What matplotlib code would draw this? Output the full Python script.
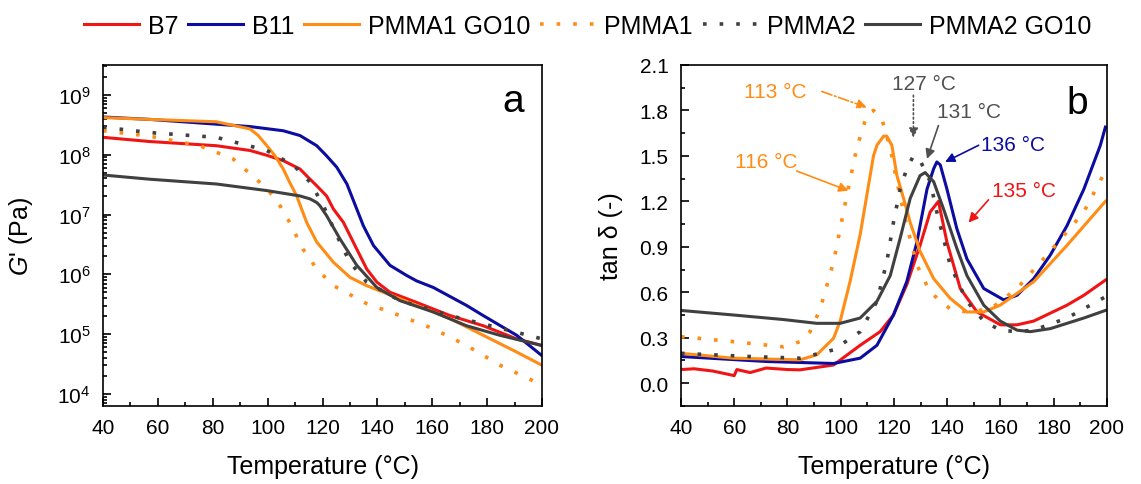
import numpy as np
import matplotlib
matplotlib.use("Agg")
import matplotlib.pyplot as plt
from matplotlib.ticker import MultipleLocator, LogLocator, NullFormatter, FormatStrFormatter

plt.rcParams['font.family'] = ['Liberation Sans', 'DejaVu Sans']
plt.rcParams['mathtext.fontset'] = 'custom'
plt.rcParams['mathtext.rm'] = 'Liberation Sans'
plt.rcParams['mathtext.it'] = 'Liberation Sans:italic'

RED = '#f01414'
BLUE = '#0c0ca0'
ORANGE = '#ff8c14'
GRAY = '#404040'

# ---- panel a: storage modulus G' (log10 Pa) ----
b11_T = [40, 57, 81.3, 93.6, 105.7, 111.8, 117.9, 121.5, 125.2, 128.9, 132.5, 134.9, 138.6,
         144.6, 150.7, 154.3, 160.4, 172.5, 178.6, 190.8, 200]
b11_G = [8.63, 8.59, 8.51, 8.47, 8.40, 8.32, 8.15, 7.98, 7.79, 7.51, 7.09, 6.81, 6.48,
         6.15, 5.98, 5.89, 5.78, 5.48, 5.31, 4.98, 4.64]

b7_T = [40, 57, 81.3, 93.6, 99.7, 105.7, 111.8, 114.8, 117.9, 121.5, 124, 127.6, 130, 132.5,
        136.1, 139.8, 144.6, 154.3, 166.5, 178.6, 190.8, 200]
b7_G = [8.29, 8.22, 8.15, 8.07, 7.99, 7.90, 7.76, 7.62, 7.48, 7.31, 7.09, 6.87, 6.65, 6.42,
        6.09, 5.87, 5.70, 5.53, 5.31, 5.14, 4.92, 4.81]

p1go_T = [40, 57, 81.3, 93.6, 96.6, 99.7, 102.7, 105.7, 108, 110.6, 114.2, 117.9, 121.5, 124,
          130, 136.1, 142.2, 154.3, 166.5, 178.6, 190.8, 200]
p1go_G = [8.62, 8.59, 8.55, 8.43, 8.32, 8.15, 7.98, 7.76, 7.54, 7.31, 6.87, 6.54, 6.34, 6.20,
          5.95, 5.81, 5.70, 5.48, 5.26, 4.98, 4.70, 4.48]

p1_T = [40, 57, 75.2, 87.4, 97.1, 103.1, 108, 112.9, 117.9, 124, 136.1, 148.2, 160.4, 172.5, 184.7, 200]
p1_G = [8.40, 8.31, 8.15, 7.93, 7.54, 7.26, 6.87, 6.42, 6.09, 5.81, 5.51, 5.31, 5.09, 4.81, 4.48, 4.15]

p2_T = [40, 57, 81.3, 99.7, 109.5, 115.5, 120.3, 125.2, 130, 136.1, 148.2, 166.5, 178.6, 190.8, 200]
p2_G = [8.46, 8.37, 8.29, 8.07, 7.82, 7.54, 7.15, 6.65, 6.20, 5.87, 5.56, 5.31, 5.17, 5.03, 4.92]

p2go_T = [40, 57, 81.3, 99.7, 111.8, 115.5, 117.9, 119, 121.5, 126.4, 132.5, 139.8, 148.2, 160.4,
          172.5, 184.7, 200]
p2go_G = [7.66, 7.59, 7.51, 7.40, 7.31, 7.26, 7.20, 7.15, 6.98, 6.59, 6.15, 5.78, 5.56, 5.37,
          5.14, 4.98, 4.81]

# ---- panel b: tan delta ----
b11_Tb = [40, 72.2, 97.3, 107.3, 113.6, 119.8, 124.8, 128.6, 132.4, 134.9, 136.1, 137.4, 139.9,
          143.6, 147.4, 153.7, 161.2, 166.2, 172.5, 178.7, 185, 191.3, 197.5, 199.4]
b11_tan = [0.176, 0.143, 0.13, 0.165, 0.25, 0.45, 0.67, 0.93, 1.28, 1.415, 1.46, 1.44, 1.28,
           1.02, 0.82, 0.625, 0.55, 0.58, 0.69, 0.845, 1.04, 1.28, 1.57, 1.69]

b7_Tb = [40, 45, 52, 60, 61, 66, 72, 80, 84.7, 97.3, 107.3, 114.8, 119.8, 124.8, 129.8, 133.6,
         136.7, 139.9, 144.9, 151.2, 160, 166.2, 172.5, 185, 191.3, 199.4]
b7_tan = [0.09, 0.095, 0.08, 0.05, 0.09, 0.07, 0.10, 0.09, 0.088, 0.12, 0.25, 0.34, 0.45, 0.65,
          0.91, 1.13, 1.20, 0.93, 0.625, 0.47, 0.385, 0.385, 0.41, 0.515, 0.58, 0.68]

p1go_Tb = [40, 59.7, 84.7, 91, 97.3, 99.8, 103.5, 107.3, 109.8, 112.3, 113.6, 116.1, 117.3, 119.2,
           121.1, 123.6, 126.1, 129.8, 134.9, 141.1, 147.4, 153.7, 159.9, 172.5, 185, 199.4]
p1go_tan = [0.197, 0.165, 0.154, 0.187, 0.296, 0.41, 0.67, 0.98, 1.24, 1.50, 1.57, 1.63, 1.63, 1.57,
            1.37, 1.22, 1.06, 0.87, 0.69, 0.56, 0.47, 0.47, 0.515, 0.67, 0.91, 1.20]

p1_Tb = [40, 59.7, 78.5, 84.7, 88.5, 92.3, 97.3, 102.3, 106, 109.8, 112.3, 115.4, 118.6, 121.1,
         124.8, 128.6, 133.6, 141.1, 147.4, 156.2, 166.2, 178.7, 191.3, 199.4]
p1_tan = [0.307, 0.274, 0.24, 0.274, 0.34, 0.49, 0.80, 1.24, 1.55, 1.77, 1.80, 1.745, 1.55, 1.33,
          1.04, 0.78, 0.60, 0.49, 0.47, 0.49, 0.625, 0.87, 1.13, 1.40]

p2_Tb = [40, 65.9, 84.7, 97.3, 107.3, 113.6, 117.3, 119.8, 122.3, 124.8, 127.3, 129.8, 133.6, 136.1,
         141.1, 147.4, 153.7, 159.9, 166.2, 172.5, 185, 199.4]
p2_tan = [0.197, 0.176, 0.165, 0.22, 0.34, 0.54, 0.80, 1.06, 1.28, 1.415, 1.50, 1.47, 1.33, 1.13,
          0.78, 0.54, 0.41, 0.35, 0.34, 0.35, 0.43, 0.57]

p2go_Tb = [40, 59.7, 78.5, 91, 99.8, 107.3, 113.6, 118.6, 122.3, 126.1, 129.8, 131.7, 134.9, 138.6,
           143.6, 147.4, 153.7, 159.9, 166.2, 171.2, 178.7, 191.3, 199.4]
p2go_tan = [0.48, 0.45, 0.42, 0.395, 0.395, 0.43, 0.54, 0.71, 0.955, 1.22, 1.37, 1.39, 1.33, 1.15,
            0.89, 0.71, 0.515, 0.41, 0.35, 0.34, 0.36, 0.43, 0.48]

xticks = [40, 60, 80, 100, 120, 140, 160, 180, 200]

DOT = (0, (1, 3.6))
LW = 2.2
DLW = 2.6

fig = plt.figure(figsize=(11.41, 4.85), dpi=100)
axa = fig.add_axes([0.0903, 0.161, 0.3847, 0.703])
axb = fig.add_axes([0.5968, 0.161, 0.3734, 0.703])

axa.plot(b7_T, 10 ** np.array(b7_G), color=RED, lw=LW, label='B7')
axa.plot(b11_T, 10 ** np.array(b11_G), color=BLUE, lw=LW, label='B11')
axa.plot(p1go_T, 10 ** np.array(p1go_G), color=ORANGE, lw=LW, label='PMMA1 GO10')
axa.plot(p1_T, 10 ** np.array(p1_G), color=ORANGE, lw=DLW, ls=DOT, label='PMMA1')
axa.plot(p2_T, 10 ** np.array(p2_G), color=GRAY, lw=DLW, ls=DOT, label='PMMA2')
axa.plot(p2go_T, 10 ** np.array(p2go_G), color=GRAY, lw=LW, label='PMMA2 GO10')
axa.set_yscale('log')
axa.set_ylim(10 ** 3.8, 10 ** 9.5)
axa.yaxis.set_major_locator(LogLocator(base=10, numticks=10))
axa.yaxis.set_minor_locator(LogLocator(base=10, subs=np.arange(2, 10), numticks=20))
axa.yaxis.set_minor_formatter(NullFormatter())
axa.set_ylabel(r"$\mathit{G}$' (Pa)", fontsize=18, labelpad=16)
axa.text(189.5, 10 ** 8.9, 'a', fontsize=28, ha='center', va='center')

axb.plot(b7_Tb, b7_tan, color=RED, lw=LW)
axb.plot(b11_Tb, b11_tan, color=BLUE, lw=LW)
axb.plot(p1go_Tb, p1go_tan, color=ORANGE, lw=LW)
axb.plot(p1_Tb, p1_tan, color=ORANGE, lw=DLW, ls=DOT)
axb.plot(p2_Tb, p2_tan, color=GRAY, lw=DLW, ls=DOT)
axb.plot(p2go_Tb, p2go_tan, color=GRAY, lw=LW)
axb.set_ylim(-0.15, 2.1)
axb.yaxis.set_major_locator(MultipleLocator(0.3))
axb.yaxis.set_minor_locator(MultipleLocator(0.15))
axb.yaxis.set_major_formatter(FormatStrFormatter('%.1f'))
axb.set_ylabel('tan δ (-)', fontsize=18, labelpad=12)
axb.text(188.7, 1.85, 'b', fontsize=28, ha='center', va='center')

# peak annotations
ann = [
    ('113 °C', 75.3, 1.925, 92.9, 1.925, 109.8, 1.82, ORANGE, '-.'),
    ('116 °C', 72.0, 1.46, 83.5, 1.40, 102.9, 1.27, ORANGE, '-'),
    ('127 °C', 131.4, 1.975, 127.3, 1.90, 127.3, 1.62, '#505050', ':'),
    ('131 °C', 148.0, 1.79, 136.7, 1.70, 132.4, 1.48, '#505050', '-'),
    ('136 °C', 164.6, 1.575, 151.8, 1.57, 139.2, 1.46, BLUE, '-'),
    ('135 °C', 168.7, 1.27, 155.5, 1.21, 148.0, 1.06, RED, '-'),
]
for txt, tx, ty, x0, y0, x1, y1, c, ls in ann:
    axb.text(tx, ty, txt, color=c, fontsize=15, ha='center', va='center')
    axb.annotate('', xy=(x1, y1), xytext=(x0, y0),
                 arrowprops=dict(arrowstyle='-|>', color=c, lw=1.2, ls=ls,
                                 mutation_scale=14, shrinkA=0, shrinkB=0))

for ax in (axa, axb):
    ax.set_xlim(40, 200)
    ax.set_xticks(xticks)
    ax.xaxis.set_minor_locator(MultipleLocator(10))
    ax.set_xlabel('Temperature (°C)', fontsize=18, labelpad=12)
    ax.tick_params(which='both', direction='in', top=False, right=False, labelsize=15, width=1.2)
    ax.tick_params(which='major', length=6, pad=9)
    ax.tick_params(which='minor', length=3)
    for s in ax.spines.values():
        s.set_linewidth(1.2)

fig.legend(loc='center', bbox_to_anchor=(0.515, 0.945), ncol=6, frameon=False, fontsize=18,
           handlelength=2.2, columnspacing=0.4, handletextpad=0.35)

fig.savefig('out.png', dpi=100)
